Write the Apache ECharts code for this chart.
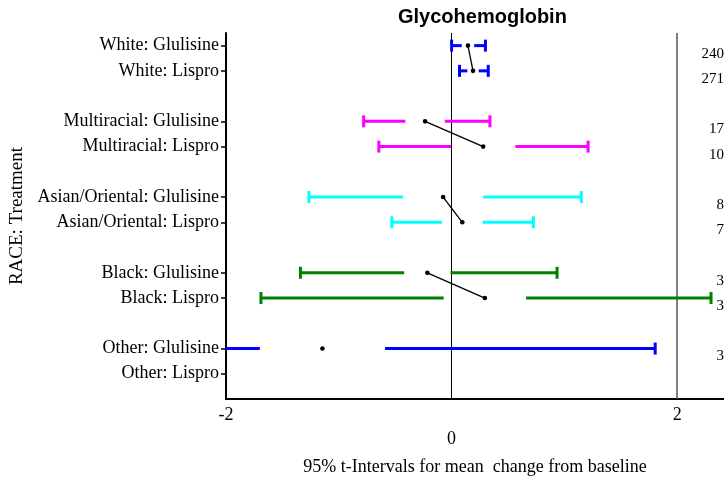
<!DOCTYPE html>
<html>
<head>
<meta charset="utf-8">
<script src="https://cdn.jsdelivr.net/npm/echarts@6/dist/echarts.min.js"></script>
<style>
html,body{margin:0;padding:0;background:#fff;}
#chart{width:724px;height:477px;}
</style>
</head>
<body>
<div id="chart"></div>
<script>
// ---- data ----
var races = ['White', 'Multiracial', 'Asian/Oriental', 'Black', 'Other'];
var treatments = ['Glulisine', 'Lispro'];
// one entry per race x treatment (Glulisine, Lispro)
var lowerCI = [0.00, 0.07, -0.78, -0.645, -1.265, -0.53, -1.34, -1.69, -4.10, null];
var upperCI = [0.30, 0.325, 0.34, 1.21, 1.15, 0.725, 0.935, 2.30, 1.805, null];
var means   = [0.145, 0.19, -0.235, 0.28, -0.075, 0.095, -0.215, 0.295, -1.145, null];
var gapHalf = [0.055, 0.05, 0.175, 0.285, 0.355, 0.18, 0.205, 0.365, 0.555, null];
var counts  = ['240', '271', '17', '10', '8', '7', '3', '3', '3', ''];
var xTicks = [-2, 0, 2];
var titleText = 'Glycohemoglobin';
var xTitle = '95% t-Intervals for mean  change from baseline';
var yTitle = 'RACE: Treatment';

// ---- styles ----
var raceColors = { 'White': '#0000ff', 'Multiracial': '#ff00ff', 'Asian/Oriental': '#00ffff', 'Black': '#008000', 'Other': '#0000ff' };
var serif = 'Liberation Serif';

// build rows
var labels = [], rowPos = [], rowRace = [];
races.forEach(function (r, gi) {
  treatments.forEach(function (t, ti) {
    labels.push(r + ': ' + t);
    rowPos.push(gi * 3 + ti);
    rowRace.push(r);
  });
});
var labelByRow = {};
rowPos.forEach(function (p, i) { labelByRow[p] = labels[i]; });

var intervalData = [], meanData = [], countData = [];
for (var i = 0; i < labels.length; i++) {
  if (means[i] !== null) {
    intervalData.push({ value: [rowPos[i], lowerCI[i], upperCI[i], means[i], gapHalf[i]], itemStyle: { color: raceColors[rowRace[i]] } });
    meanData.push([means[i], rowPos[i], i]);
  }
  countData.push([rowPos[i], counts[i]]);
}

var xMax = 2.415;

var chart = echarts.init(document.getElementById('chart'), null, { renderer: 'canvas' });
chart.setOption({
  animation: false,
  backgroundColor: '#fff',
  title: {
    text: titleText, left: 393, top: 2,
    textStyle: { fontFamily: 'Liberation Sans', fontWeight: 'bold', fontSize: 20, color: '#000' }
  },
  grid: { left: 226, right: 0, top: 33, bottom: 78, containLabel: false, outerBoundsMode: 'none' },
  xAxis: {
    type: 'value', min: -2, max: xMax,
    name: xTitle, nameLocation: 'middle', nameGap: 59,
    nameTextStyle: { fontFamily: serif, fontSize: 18, color: '#000' },
    axisLine: { show: true, onZero: false, lineStyle: { color: '#000', width: 2 } },
    axisTick: { show: false },
    splitLine: { show: false },
    axisLabel: {
      customValues: xTicks, margin: 7,
      fontFamily: serif, fontSize: 18, color: '#000',
      formatter: function (v) { return v === 0 ? '{z|0}' : String(v); },
      rich: { z: { fontFamily: serif, fontSize: 18, color: '#000', padding: [24, 0, 0, 0] } }
    }
  },
  yAxis: {
    type: 'value', inverse: true, min: -0.5, max: 14,
    name: yTitle, nameLocation: 'middle', nameGap: 190, nameRotate: 90,
    nameTextStyle: { fontFamily: serif, fontSize: 19, color: '#000' },
    axisLine: { show: true, onZero: false, lineStyle: { color: '#000', width: 2 } },
    axisTick: { show: true, customValues: rowPos, length: 5, lineStyle: { color: '#000', width: 1.5 } },
    splitLine: { show: false },
    axisLabel: {
      customValues: rowPos, margin: 7,
      fontFamily: serif, fontSize: 18, color: '#000',
      formatter: function (v) { return labelByRow[v] || ''; }
    }
  },
  series: [
    {
      type: 'custom', name: 'intervals', clip: true, z: 3,
      data: intervalData,
      renderItem: function (params, api) {
        var row = api.value(0), lo = api.value(1), hi = api.value(2), m = api.value(3), g = api.value(4);
        var color = api.visual('color');
        var a = api.coord([lo, row]), b = api.coord([m - g, row]), c = api.coord([m + g, row]), d = api.coord([hi, row]);
        var cap = 6;
        var st = { stroke: color, lineWidth: 3 };
        return {
          type: 'group',
          children: [
            { type: 'line', shape: { x1: a[0], y1: a[1], x2: b[0], y2: b[1] }, style: st },
            { type: 'line', shape: { x1: c[0], y1: c[1], x2: d[0], y2: d[1] }, style: st },
            { type: 'line', shape: { x1: a[0], y1: a[1] - cap, x2: a[0], y2: a[1] + cap }, style: st },
            { type: 'line', shape: { x1: d[0], y1: d[1] - cap, x2: d[0], y2: d[1] + cap }, style: st }
          ]
        };
      },
      markLine: {
        silent: true, symbol: 'none', label: { show: false }, z: 1,
        data: [
          { xAxis: 0, lineStyle: { color: '#000', width: 1, type: 'solid' } },
          { xAxis: 2, lineStyle: { color: '#555', width: 1.5, type: 'solid' } }
        ]
      }
    },
    {
      type: 'custom', name: 'means', clip: false, z: 4,
      data: meanData,
      renderItem: function (params, api) {
        var m = api.value(0), row = api.value(1), idx = api.value(2);
        var p = api.coord([m, row]);
        var children = [{ type: 'circle', shape: { cx: p[0], cy: p[1], r: 2.3 }, style: { fill: '#000' } }];
        // connect Glulisine mean to Lispro mean of the same race
        if (idx % 2 === 0 && means[idx + 1] !== null && means[idx + 1] !== undefined) {
          var q = api.coord([means[idx + 1], rowPos[idx + 1]]);
          children.push({ type: 'line', shape: { x1: p[0], y1: p[1], x2: q[0], y2: q[1] }, style: { stroke: '#000', lineWidth: 1.3 } });
        }
        return { type: 'group', children: children };
      }
    },
    {
      type: 'custom', name: 'counts', clip: false, z: 5,
      data: countData,
      renderItem: function (params, api) {
        var row = api.value(0);
        var txt = counts[params.dataIndex];
        var p = api.coord([xMax, row]);
        return {
          type: 'text',
          style: { x: p[0], y: p[1] + 8, text: txt, align: 'right', verticalAlign: 'middle', fontFamily: serif, fontSize: 15, fill: '#000' }
        };
      }
    }
  ]
});
</script>
</body>
</html>
